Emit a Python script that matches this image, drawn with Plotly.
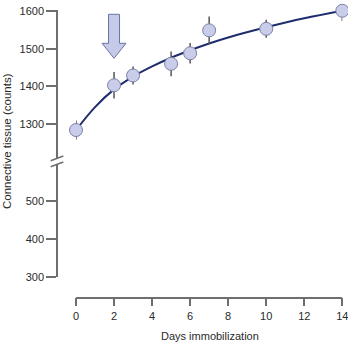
import plotly.graph_objects as go

# ---- data ----
days = [0, 2, 3, 5, 6, 7, 10, 14]
counts = [1284, 1403, 1429, 1460, 1488, 1549, 1553, 1601]
errors = [25, 35, 24, 33, 27, 37, 24, 27]

fit_days = [0, 1, 2, 3, 4, 5, 6, 7, 8, 10, 12, 14]
fit_counts = [1284, 1345, 1392, 1426, 1453, 1476, 1496, 1514, 1530, 1557, 1581, 1601]

upper_ticks = [1300, 1400, 1500, 1600]
lower_ticks = [300, 400, 500]
x_ticks = [0, 2, 4, 6, 8, 10, 12, 14]
arrow_day = 2

W, H = 348, 343
def px(x):
    return x / W
def py(y):
    return 1 - y / H

FONT = "Liberation Sans Narrow, Arial Narrow, Liberation Sans, Arial, sans-serif"
AXC = "#6e6e6e"
TXT = "#2a2a2a"

fig = go.Figure()
fig.add_trace(go.Scatter(x=fit_days, y=fit_counts, mode="lines",
                         line=dict(color="#1f2d6e", width=2, shape="spline", smoothing=1.0),
                         xaxis="x", yaxis="y", hoverinfo="skip", showlegend=False, cliponaxis=False))
fig.add_trace(go.Scatter(x=days, y=counts, mode="markers",
                         marker=dict(size=13, color="#c9cdea", line=dict(color="#7a81a6", width=1)),
                         error_y=dict(type="data", array=errors, color="#555555", thickness=1.5, width=0),
                         xaxis="x", yaxis="y", showlegend=False, cliponaxis=False))
fig.add_trace(go.Scatter(x=[], y=[], xaxis="x", yaxis="y2", showlegend=False))

axis_common = dict(showline=True, linecolor=AXC, linewidth=1.5, ticks="outside", tickcolor=AXC,
                   tickwidth=1.5, showgrid=False, zeroline=False, automargin=False,
                   ticklabeloverflow="allow",
                   tickfont=dict(family=FONT, size=11, color=TXT))

fig.update_layout(
    template="none",
    width=W, height=H, margin=dict(l=0, r=0, t=0, b=0, pad=0), autosize=False,
    paper_bgcolor="white", plot_bgcolor="white", showlegend=False,
    xaxis=dict(domain=[px(76), px(342.3)], range=[0, 14], anchor="free", position=py(297.7),
               tickvals=x_ticks, ticklen=8, **axis_common),
    yaxis=dict(domain=[py(159), py(10)], range=[1207, 1603], anchor="free", position=px(57),
               tickvals=upper_ticks, ticklen=10, **axis_common),
    yaxis2=dict(domain=[py(277), py(164)], range=[300, 596.6], anchor="free", position=px(57),
                tickvals=lower_ticks, ticklen=10, **axis_common),
    annotations=[
        dict(text="Days immobilization", x=px(209.5), y=py(336), xref="paper", yref="paper",
             xanchor="center", yanchor="middle",
             showarrow=False, font=dict(family=FONT, size=11, color=TXT)),
        dict(text="Connective tissue (counts)", x=px(7), y=py(141), xref="paper", yref="paper",
             xanchor="center", yanchor="middle",
             showarrow=False, textangle=-90, font=dict(family=FONT, size=11.5, color=TXT)),
    ],
    shapes=[
        dict(type="line", xref="paper", yref="paper", x0=px(50.7), y0=py(160.7), x1=px(63.3), y1=py(156),
             line=dict(color=AXC, width=1.5)),
        dict(type="line", xref="paper", yref="paper", x0=px(50.7), y0=py(166.7), x1=px(63.3), y1=py(162),
             line=dict(color=AXC, width=1.5)),
        dict(type="path", xref="x", yref="paper", xsizemode="pixel", ysizemode="pixel",
             xanchor=arrow_day, yanchor=py(58.3),
             path="M -5.5,44 L 5.5,44 L 5.5,15 L 12,15 L 0,0 L -12,15 L -5.5,15 Z",
             fillcolor="#c5cae9", line=dict(color="#6a73a8", width=1)),
    ],
)

fig.write_html("out.html")
